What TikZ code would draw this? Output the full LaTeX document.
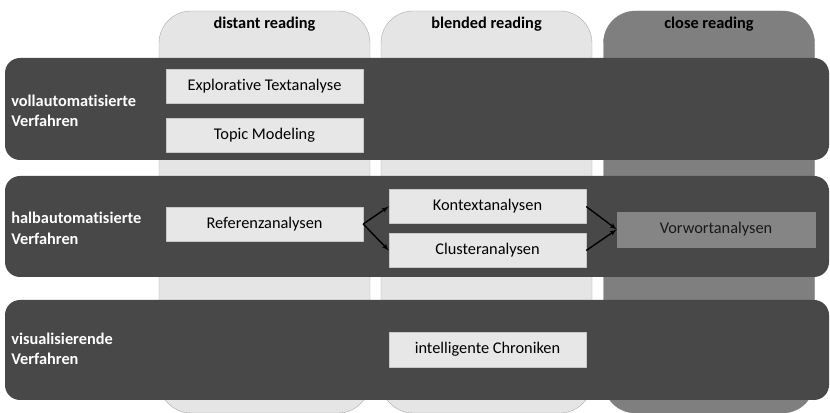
\documentclass[tikz,border=0pt]{standalone}
\usepackage{fontspec}
\setmainfont{Carlito}[Ligatures=NoCommon]
\usepackage{tikz}
\usetikzlibrary{arrows,positioning}
\definecolor{collight}{RGB}{229,229,229}
\definecolor{colborder}{RGB}{170,170,170}
\definecolor{coldark}{RGB}{127,127,127}
\definecolor{bandgray}{RGB}{72,72,72}
\definecolor{boxlight}{RGB}{231,231,231}
\definecolor{boxborder}{RGB}{200,200,200}
\definecolor{boxdark}{RGB}{133,133,133}

\begin{document}
\begin{tikzpicture}[>=latex',line join=bevel,
  colbox/.style={draw=colborder,fill=collight,rounded corners=32bp,minimum width=211bp,minimum height=402bp,inner sep=0pt},
  rowband/.style={fill=bandgray,rounded corners=15bp,minimum width=824bp,minimum height=101bp,inner sep=0pt},
  methodbox/.style={draw=boxborder,fill=boxlight,minimum width=197bp,minimum height=34bp,inner sep=0pt,font=\fontsize{16.4}{19}\selectfont},
  colhead/.style={font=\bfseries\fontsize{16.4}{19}\selectfont},
  rowlabel/.style={anchor=west,align=left,text=white,font=\bfseries\fontsize{16.4}{20.5}\selectfont},
  flow/.style={->,line width=1.4bp,black}]
\useasboundingbox (0bp,0bp) rectangle (830bp,413bp);
%%
\node (cDistant) at (264.5bp,201bp) [colbox] {};
  \node (cBlended) at (486.5bp,201bp) [colbox] {};
  \node (cClose) at (709bp,201bp) [colbox,fill=coldark,draw=coldark] {};
  \node (hDistant) at (264.5bp,389bp) [colhead] {distant reading};
  \node (hBlended) at (486.5bp,389bp) [colhead] {blended reading};
  \node (hClose) at (709bp,389bp) [colhead] {close reading};
%%
\node (rVoll) at (417bp,304bp) [rowband,minimum height=102bp] {};
  \node (rHalb) at (417bp,186.5bp) [rowband] {};
  \node (rVis) at (417bp,63bp) [rowband,minimum height=100bp] {};
  \node (lVoll) at ([xshift=3bp,yshift=-2bp]rVoll.west) [rowlabel] {vollautomatisierte\\Verfahren};
  \node (lHalb) at ([xshift=3bp,yshift=-2bp]rHalb.west) [rowlabel] {halbautomatisierte\\Verfahren};
  \node (lVis) at ([xshift=3bp,yshift=1bp]rVis.west) [rowlabel] {visualisierende\\Verfahren};
%%
\node (explorativ) at (264.5bp,327bp) [methodbox] {Explorative Textanalyse};
  \node (topic) at (264.5bp,278bp) [methodbox] {Topic Modeling};
  \node (referenz) at (264.5bp,189bp) [methodbox] {Referenzanalysen};
  \node (kontext) at (487.5bp,206.5bp) [methodbox] {Kontextanalysen};
  \node (cluster) at (487.5bp,162.5bp) [methodbox] {Clusteranalysen};
  \node (vorwort) at (716bp,183.5bp) [methodbox,fill=boxdark,draw=boxdark,minimum width=198bp,minimum height=35bp,text=black!90] {Vorwortanalysen};
  \node (chronik) at (487.5bp,63.5bp) [methodbox,minimum height=35bp] {intelligente Chroniken};
%%
\draw [flow] (referenz.east) -- (kontext.west);
  \draw [flow] (referenz.east) -- (cluster.west);
  \draw [flow] (kontext.east) -- (vorwort.west);
  \draw [flow] (cluster.east) -- (vorwort.west);
%
\end{tikzpicture}
\end{document}
